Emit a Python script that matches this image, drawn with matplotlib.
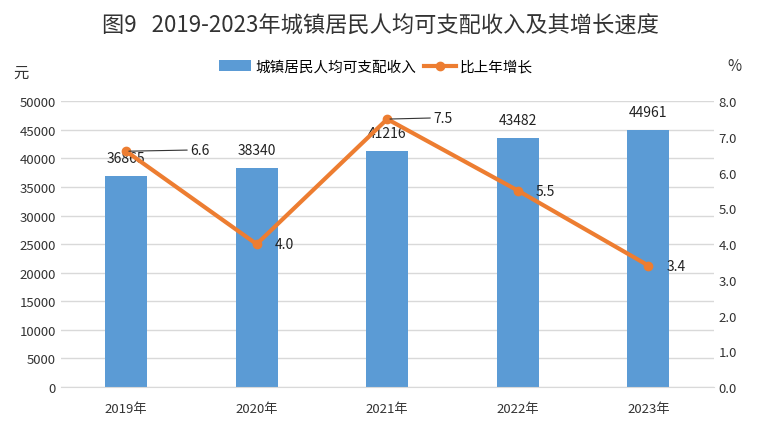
import matplotlib.pyplot as plt
import numpy as np

plt.rcParams['font.family'] = ['Noto Sans CJK SC', 'DejaVu Sans']

years = ["2019年", "2020年", "2021年", "2022年", "2023年"]
income = [36865, 38340, 41216, 43482, 44961]
growth = [6.6, 4.0, 7.5, 5.5, 3.4]

bar_color = "#5B9BD5"
line_color = "#ED7D31"

fig = plt.figure(figsize=(7.6, 4.31), dpi=100)
ax = fig.add_axes([0.080, 0.0998, 0.859, 0.663])
ax2 = ax.twinx()

x = np.arange(len(years))
ax.bar(x, income, width=0.32, color=bar_color, zorder=2, label="城镇居民人均可支配收入")
ax.set_ylim(0, 50000)
ax.set_yticks(np.arange(0, 50001, 5000))
ax.set_xlim(-0.5, len(years) - 0.5)
ax.set_xticks(x)
ax.set_xticklabels(years, fontsize=9.5)
ax.grid(axis="y", color="#D9D9D9", linewidth=1, zorder=0)
ax.tick_params(axis="both", length=0, labelsize=9.5, colors="#333333")
ax.tick_params(axis="x", pad=11)
for s in ax.spines.values():
    s.set_visible(False)
ax.spines["bottom"].set_visible(True)
ax.spines["bottom"].set_color("#D9D9D9")

ax2.plot(x, growth, color=line_color, linewidth=3, marker="o", markersize=6,
         zorder=3, label="比上年增长")
ax2.set_ylim(0, 8)
ax2.set_yticks(np.arange(0, 8.01, 1))
ax2.set_yticklabels([f"{v:.1f}" for v in np.arange(0, 8.01, 1)])
ax2.tick_params(axis="y", length=0, labelsize=9.5, colors="#333333")
for s in ax2.spines.values():
    s.set_visible(False)

# bar value labels
for i, v in enumerate(income):
    ax.annotate(str(v), (x[i], v), xytext=(0, 8), textcoords="offset points",
                ha="center", va="bottom", fontsize=10, color="#222222")

# line value labels
line_offsets = [(46, 1), (20, 0), (33, 1), (20, 0), (20, 0)]
for i, v in enumerate(growth):
    dx, dy = line_offsets[i]
    arrow = None
    if i in (0, 2):
        arrow = dict(arrowstyle="-", color="#333333", linewidth=0.8, shrinkA=0, shrinkB=2)
    ax2.annotate(f"{v:.1f}", (x[i], v), xytext=(dx, dy), textcoords="offset points",
                 ha="left" if arrow else "center", va="center", fontsize=10,
                 color="#222222", arrowprops=arrow)

fig.text(0.5, 0.94, "图9   2019-2023年城镇居民人均可支配收入及其增长速度",
         ha="center", va="center", fontsize=16, color="#333333")
fig.text(0.028, 0.83, "元", ha="center", va="center", fontsize=11, color="#333333")
fig.text(0.967, 0.845, "%", ha="center", va="center", fontsize=11, color="#333333")

h1, l1 = ax.get_legend_handles_labels()
h2, l2 = ax2.get_legend_handles_labels()
fig.legend(h1 + h2, l1 + l2, loc="center", bbox_to_anchor=(0.495, 0.843), ncol=2,
           frameon=False, fontsize=10.5, handlelength=2.2, columnspacing=0.5,
           handletextpad=0.3)

plt.savefig("out.png", dpi=100)
